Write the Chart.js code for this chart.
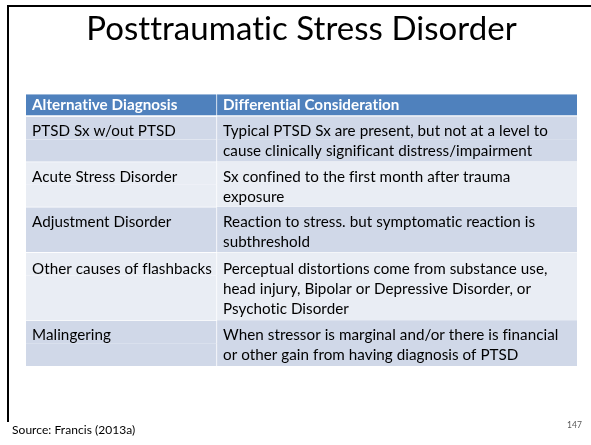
<!DOCTYPE html>
<html>
<head>
<meta charset="utf-8">
<script src="https://cdn.jsdelivr.net/npm/chart.js@4.4.0/dist/chart.umd.min.js"></script>
<style>
  html, body { margin: 0; padding: 0; background: #fff; }
  #wrap { width: 591px; height: 445px; }
</style>
</head>
<body>
<div id="wrap"><canvas id="slide" width="591" height="445"></canvas></div>
<script>
const slideTitle = 'Posttraumatic Stress Disorder';
const headers = ['Alternative Diagnosis', 'Differential Consideration'];
const diagnoses = [
  'PTSD Sx w/out PTSD',
  'Acute Stress Disorder',
  'Adjustment Disorder',
  'Other causes of flashbacks',
  'Malingering'
];
const considerations = [
  ['Typical PTSD Sx are present, but not at a level to', 'cause clinically significant distress/impairment'],
  ['Sx confined to the first month after trauma', 'exposure'],
  ['Reaction to stress. but symptomatic reaction is', 'subthreshold'],
  ['Perceptual distortions come from substance use,', 'head injury, Bipolar or Depressive Disorder, or', 'Psychotic Disorder'],
  ['When stressor is marginal and/or there is financial', 'or other gain from having diagnosis of PTSD']
];
const columnWidths = [191, 360];
const sourceNote = 'Source: Francis (2013a)';
const pageNumber = '147';

// one category slot per text line, header row first
const rowLines = [1].concat(considerations.map(c => c.length));
const rowStart = [];
const slotRow = [];
rowLines.forEach((n, r) => {
  rowStart.push(slotRow.length);
  for (let k = 0; k < n; k++) slotRow.push(r);
});
const slots = slotRow.map((r, i) => 'line ' + i);

const headerBlue = '#4F81BD';
const bands = ['#D0D8E8', '#E9EDF4'];
function rowColor(r) { return r === 0 ? headerBlue : bands[(r - 1) % 2]; }
function rowEndBorder(i) {
  if (i === slotRow.length - 1 || slotRow[i + 1] === slotRow[i]) return 0;
  return slotRow[i] === 0 ? 2 : 1;
}

Chart.defaults.font.family = 'Lato';

// tiny letter spacing keeps Lato from using its ti / fi ligatures
const noLigatures = {
  id: 'noLigatures',
  beforeDraw(chart) { chart.ctx.letterSpacing = '0.05px'; }
};

const tableText = {
  id: 'tableText',
  afterDatasetsDraw(chart) {
    const { ctx, scales: { x, y } } = chart;
    const colX = [x.getPixelForValue(0) + 6, x.getPixelForValue(columnWidths[0]) + 6];
    ctx.save();
    ctx.textBaseline = 'middle';
    ctx.textAlign = 'left';
    rowLines.forEach((n, r) => {
      const mid = y.getPixelForValue(rowStart[r] + (n - 1) / 2) + (r === 0 ? 0 : 2);
      const cells = r === 0 ? [[headers[0]], [headers[1]]] : [[diagnoses[r - 1]], considerations[r - 1]];
      ctx.font = (r === 0 ? 'bold ' : '') + '15.2px Lato';
      ctx.fillStyle = r === 0 ? '#fff' : '#000';
      cells.forEach((lines, c) => {
        lines.forEach((t, k) => {
          ctx.fillText(t, colX[c], mid + (k - (n - 1) / 2) * 20);
        });
      });
    });
    ctx.restore();
  }
};

const slideFrame = {
  id: 'slideFrame',
  afterDraw(chart) {
    const { ctx, width } = chart;
    ctx.save();
    ctx.fillStyle = '#000';
    ctx.fillRect(7, 5, width - 7, 2);
    ctx.fillRect(7, 5, 2, 417);
    ctx.textBaseline = 'middle';
    ctx.font = '12px Lato';
    ctx.textAlign = 'left';
    ctx.fillText(sourceNote, 12, 430);
    ctx.font = '8.5px Lato';
    ctx.fillStyle = '#595959';
    ctx.textAlign = 'right';
    ctx.fillText(pageNumber, 582, 425);
    ctx.restore();
  }
};

new Chart(document.getElementById('slide'), {
  type: 'bar',
  data: {
    labels: slots,
    datasets: [
      {
        label: headers[0],
        data: slots.map(() => columnWidths[0]),
        backgroundColor: c => rowColor(slotRow[c.dataIndex]),
        borderColor: '#fff',
        borderWidth: c => ({ top: 0, left: 0, right: 1, bottom: rowEndBorder(c.dataIndex) }),
        borderSkipped: false,
        barPercentage: 1,
        categoryPercentage: 1
      },
      {
        label: headers[1],
        data: slots.map(() => columnWidths[1]),
        backgroundColor: c => rowColor(slotRow[c.dataIndex]),
        borderColor: '#fff',
        borderWidth: c => ({ top: 0, left: 0, right: 0, bottom: rowEndBorder(c.dataIndex) }),
        borderSkipped: false,
        barPercentage: 1,
        categoryPercentage: 1
      }
    ]
  },
  options: {
    responsive: false,
    animation: false,
    indexAxis: 'y',
    layout: { padding: { left: 26, right: 14, top: 0, bottom: 79 } },
    scales: {
      x: { type: 'linear', stacked: true, min: 0, max: columnWidths[0] + columnWidths[1], display: false },
      y: { type: 'category', stacked: true, offset: true, display: false }
    },
    plugins: {
      legend: { display: false },
      tooltip: { enabled: false },
      title: {
        display: true,
        text: slideTitle,
        color: '#000',
        font: { family: 'Lato', size: 33, weight: 'normal', lineHeight: 1.2 },
        padding: { top: 10, bottom: 44.6 }
      }
    }
  },
  plugins: [noLigatures, tableText, slideFrame]
});
</script>
</body>
</html>
